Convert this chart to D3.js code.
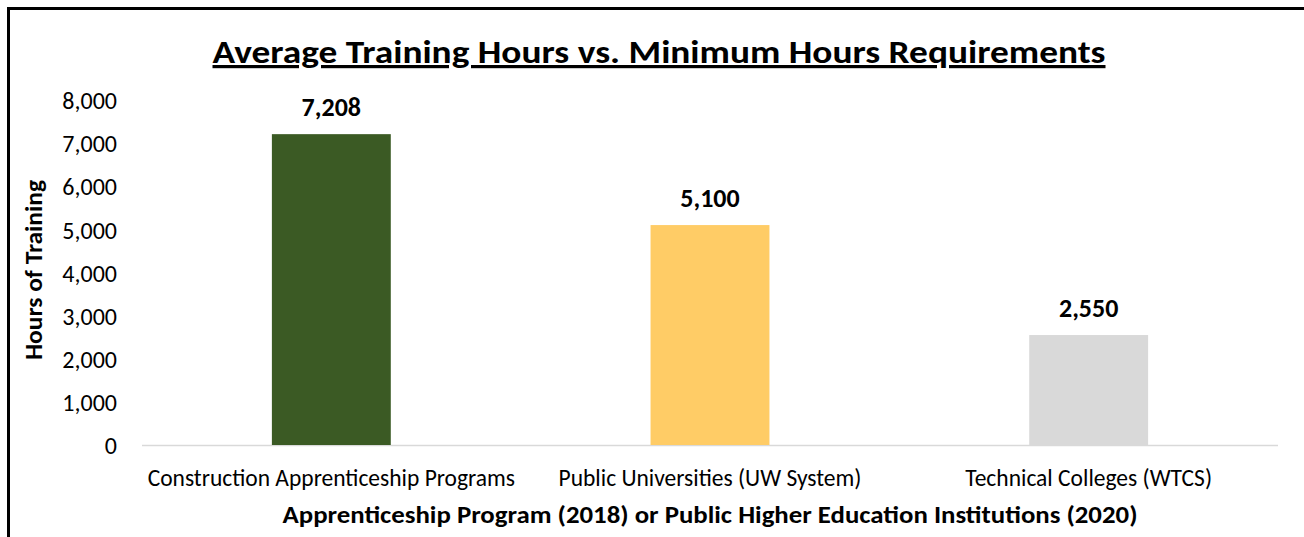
<!DOCTYPE html>
<html>
<head>
<meta charset="utf-8">
<script src="https://cdn.jsdelivr.net/npm/d3@7"></script>
<style>
  body { margin: 0; background: #fff; }
  svg text { font-family: Carlito, Lato, "Open Sans", sans-serif; fill: #000; }
</style>
</head>
<body>
<svg id="chart" width="1304" height="537"></svg>
<script>
var categories = ["Construction Apprenticeship Programs", "Public Universities (UW System)", "Technical Colleges (WTCS)"];
var hours = [7208, 5100, 2550];
var barColors = ["#3b5a24", "#ffcc66", "#d9d9d9"];
var yTicks = [0, 1000, 2000, 3000, 4000, 5000, 6000, 7000, 8000];

var svg = d3.select("#chart");
var plotLeft = 142, plotRight = 1278, plotTop = 100, plotBottom = 445;

// frame: only the top and left edges show in the picture
svg.append("line").attr("x1", 7).attr("x2", 1304).attr("y1", 8.5).attr("y2", 8.5)
  .attr("stroke", "#000").attr("stroke-width", 3);
svg.append("line").attr("x1", 8.5).attr("x2", 8.5).attr("y1", 7).attr("y2", 537)
  .attr("stroke", "#000").attr("stroke-width", 3);

var x = d3.scaleBand().domain(categories).range([plotLeft, plotRight]).padding(0);
var y = d3.scaleLinear().domain([0, 8000]).range([plotBottom, plotTop]);
var barW = x.bandwidth() * 0.314;

svg.append("text")
  .attr("x", 659).attr("y", 63)
  .attr("text-anchor", "middle")
  .attr("font-size", 32).attr("font-weight", "bold")
  .attr("text-decoration", "underline")
  .attr("textLength", 893).attr("lengthAdjust", "spacingAndGlyphs")
  .text("Average Training Hours vs. Minimum Hours Requirements");

var yAxis = d3.axisLeft(y).tickValues(yTicks).tickSize(0).tickPadding(0)
  .tickFormat(d3.format(","));
var gy = svg.append("g").attr("transform", "translate(117,0)").call(yAxis);
gy.select(".domain").remove();
gy.selectAll("text").attr("font-size", 24).attr("font-family", null).attr("dy", "0.36em");

svg.append("line").attr("x1", plotLeft).attr("x2", plotRight)
  .attr("y1", plotBottom + 0.5).attr("y2", plotBottom + 0.5)
  .attr("stroke", "#d9d9d9").attr("stroke-width", 1.5);

svg.selectAll("rect.bar").data(hours).enter().append("rect")
  .attr("class", "bar")
  .attr("x", function(d, i) { return x(categories[i]) + x.bandwidth() / 2 - barW / 2; })
  .attr("y", function(d) { return y(d); })
  .attr("width", barW)
  .attr("height", function(d) { return plotBottom - y(d); })
  .attr("fill", function(d, i) { return barColors[i]; });

svg.selectAll("text.val").data(hours).enter().append("text")
  .attr("class", "val")
  .attr("x", function(d, i) { return x(categories[i]) + x.bandwidth() / 2; })
  .attr("y", function(d) { return y(d) - 18; })
  .attr("text-anchor", "middle")
  .attr("font-size", 26).attr("font-weight", "bold")
  .text(function(d) { return d3.format(",")(d); });

svg.selectAll("text.cat").data(categories).enter().append("text")
  .attr("class", "cat")
  .attr("x", function(d) { return x(d) + x.bandwidth() / 2; })
  .attr("y", 486)
  .attr("text-anchor", "middle")
  .attr("font-size", 23.5)
  .text(function(d) { return d; });

svg.append("text")
  .attr("x", (plotLeft + plotRight) / 2).attr("y", 523)
  .attr("text-anchor", "middle")
  .attr("font-size", 24).attr("font-weight", "bold")
  .attr("textLength", 855).attr("lengthAdjust", "spacingAndGlyphs")
  .text("Apprenticeship Program (2018) or Public Higher Education Institutions (2020)");

svg.append("text")
  .attr("transform", "translate(42,270) rotate(-90)")
  .attr("text-anchor", "middle")
  .attr("font-size", 24).attr("font-weight", "bold")
  .attr("textLength", 180).attr("lengthAdjust", "spacingAndGlyphs")
  .text("Hours of Training");
</script>
</body>
</html>
